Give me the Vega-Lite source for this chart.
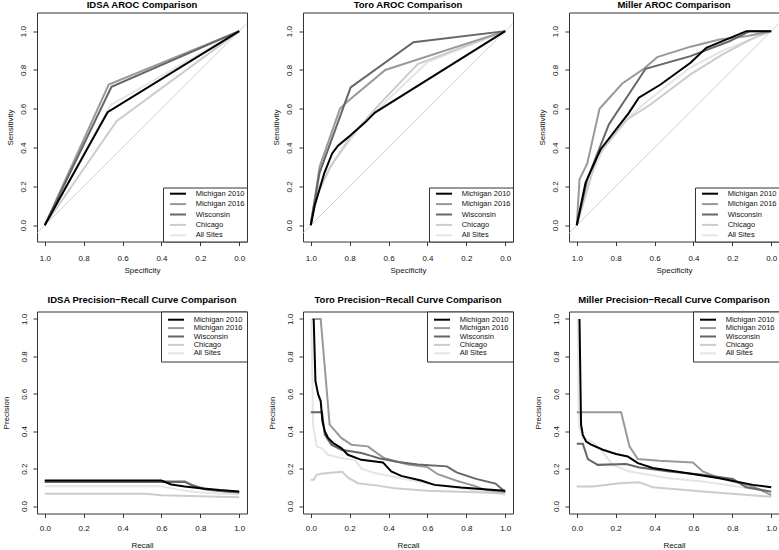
{
  "$schema": "https://vega.github.io/schema/vega-lite/v6.json",
  "padding": {"left": 1, "top": -0.5, "right": 0, "bottom": 0},
  "config": {
    "font": "Liberation Sans",
    "view": {"stroke": "#333333", "strokeWidth": 1},
    "axis": {"domain": false, "grid": false, "tickSize": 4, "tickColor": "#333333", "tickWidth": 1, "labelFontSize": 8, "labelColor": "#111111", "titleFontSize": 8, "titleFontWeight": "normal", "titleColor": "#111111"},
    "title": {"fontSize": 9.5, "fontWeight": "bold", "anchor": "middle", "frame": "group", "baseline": "middle", "color": "#000000"},
    "legend": {"strokeColor": "#333333", "fillColor": "#ffffff", "labelFontSize": 7.5, "labelColor": "#111111", "symbolStrokeWidth": 2, "symbolSize": 36, "offset": 0, "labelExpr": "datum.label + '\u00a0\u00a0\u00a0'"}
  },
  "datasets": {
    "diag": [{"specificity": 1.1, "sensitivity": -0.1}, {"specificity": -0.1, "sensitivity": 1.1}],
    "roc": [
      {"model": "IDSA", "site": "All Sites", "specificity": 1, "sensitivity": 0},
      {"model": "IDSA", "site": "All Sites", "specificity": 0.66, "sensitivity": 0.62},
      {"model": "IDSA", "site": "All Sites", "specificity": 0, "sensitivity": 1},
      {"model": "IDSA", "site": "Chicago", "specificity": 1, "sensitivity": 0},
      {"model": "IDSA", "site": "Chicago", "specificity": 0.631, "sensitivity": 0.536},
      {"model": "IDSA", "site": "Chicago", "specificity": 0, "sensitivity": 1},
      {"model": "IDSA", "site": "Michigan 2016", "specificity": 1, "sensitivity": 0},
      {"model": "IDSA", "site": "Michigan 2016", "specificity": 0.671, "sensitivity": 0.725},
      {"model": "IDSA", "site": "Michigan 2016", "specificity": 0, "sensitivity": 1},
      {"model": "IDSA", "site": "Wisconsin", "specificity": 1, "sensitivity": 0},
      {"model": "IDSA", "site": "Wisconsin", "specificity": 0.657, "sensitivity": 0.713},
      {"model": "IDSA", "site": "Wisconsin", "specificity": 0, "sensitivity": 1},
      {"model": "IDSA", "site": "Michigan 2010", "specificity": 1, "sensitivity": 0},
      {"model": "IDSA", "site": "Michigan 2010", "specificity": 0.677, "sensitivity": 0.582},
      {"model": "IDSA", "site": "Michigan 2010", "specificity": 0, "sensitivity": 1},

      {"model": "Toro", "site": "All Sites", "specificity": 1, "sensitivity": 0},
      {"model": "Toro", "site": "All Sites", "specificity": 0.97, "sensitivity": 0.18},
      {"model": "Toro", "site": "All Sites", "specificity": 0.88, "sensitivity": 0.33},
      {"model": "Toro", "site": "All Sites", "specificity": 0.75, "sensitivity": 0.5},
      {"model": "Toro", "site": "All Sites", "specificity": 0.6, "sensitivity": 0.65},
      {"model": "Toro", "site": "All Sites", "specificity": 0.4, "sensitivity": 0.84},
      {"model": "Toro", "site": "All Sites", "specificity": 0, "sensitivity": 1},
      {"model": "Toro", "site": "Chicago", "specificity": 1, "sensitivity": 0},
      {"model": "Toro", "site": "Chicago", "specificity": 0.97, "sensitivity": 0.15},
      {"model": "Toro", "site": "Chicago", "specificity": 0.9, "sensitivity": 0.3},
      {"model": "Toro", "site": "Chicago", "specificity": 0.8, "sensitivity": 0.45},
      {"model": "Toro", "site": "Chicago", "specificity": 0.65, "sensitivity": 0.62},
      {"model": "Toro", "site": "Chicago", "specificity": 0.45, "sensitivity": 0.83},
      {"model": "Toro", "site": "Chicago", "specificity": 0, "sensitivity": 1},
      {"model": "Toro", "site": "Michigan 2016", "specificity": 1, "sensitivity": 0},
      {"model": "Toro", "site": "Michigan 2016", "specificity": 0.99, "sensitivity": 0.06},
      {"model": "Toro", "site": "Michigan 2016", "specificity": 0.955, "sensitivity": 0.3},
      {"model": "Toro", "site": "Michigan 2016", "specificity": 0.85, "sensitivity": 0.6},
      {"model": "Toro", "site": "Michigan 2016", "specificity": 0.82, "sensitivity": 0.63},
      {"model": "Toro", "site": "Michigan 2016", "specificity": 0.617, "sensitivity": 0.8},
      {"model": "Toro", "site": "Michigan 2016", "specificity": 0, "sensitivity": 1},
      {"model": "Toro", "site": "Wisconsin", "specificity": 1, "sensitivity": 0},
      {"model": "Toro", "site": "Wisconsin", "specificity": 0.995, "sensitivity": 0.04},
      {"model": "Toro", "site": "Wisconsin", "specificity": 0.955, "sensitivity": 0.27},
      {"model": "Toro", "site": "Wisconsin", "specificity": 0.795, "sensitivity": 0.71},
      {"model": "Toro", "site": "Wisconsin", "specificity": 0.472, "sensitivity": 0.943},
      {"model": "Toro", "site": "Wisconsin", "specificity": 0, "sensitivity": 1},
      {"model": "Toro", "site": "Michigan 2010", "specificity": 1, "sensitivity": 0},
      {"model": "Toro", "site": "Michigan 2010", "specificity": 0.98, "sensitivity": 0.1},
      {"model": "Toro", "site": "Michigan 2010", "specificity": 0.93, "sensitivity": 0.27},
      {"model": "Toro", "site": "Michigan 2010", "specificity": 0.89, "sensitivity": 0.37},
      {"model": "Toro", "site": "Michigan 2010", "specificity": 0.86, "sensitivity": 0.41},
      {"model": "Toro", "site": "Michigan 2010", "specificity": 0.8, "sensitivity": 0.46},
      {"model": "Toro", "site": "Michigan 2010", "specificity": 0.72, "sensitivity": 0.53},
      {"model": "Toro", "site": "Michigan 2010", "specificity": 0.67, "sensitivity": 0.58},
      {"model": "Toro", "site": "Michigan 2010", "specificity": 0, "sensitivity": 1},

      {"model": "Miller", "site": "All Sites", "specificity": 1, "sensitivity": 0},
      {"model": "Miller", "site": "All Sites", "specificity": 0.93, "sensitivity": 0.25},
      {"model": "Miller", "site": "All Sites", "specificity": 0.85, "sensitivity": 0.42},
      {"model": "Miller", "site": "All Sites", "specificity": 0.73, "sensitivity": 0.56},
      {"model": "Miller", "site": "All Sites", "specificity": 0.6, "sensitivity": 0.67},
      {"model": "Miller", "site": "All Sites", "specificity": 0.42, "sensitivity": 0.81},
      {"model": "Miller", "site": "All Sites", "specificity": 0.25, "sensitivity": 0.9},
      {"model": "Miller", "site": "All Sites", "specificity": 0, "sensitivity": 1},
      {"model": "Miller", "site": "Chicago", "specificity": 1, "sensitivity": 0},
      {"model": "Miller", "site": "Chicago", "specificity": 0.895, "sensitivity": 0.356},
      {"model": "Miller", "site": "Chicago", "specificity": 0.741, "sensitivity": 0.545},
      {"model": "Miller", "site": "Chicago", "specificity": 0.621, "sensitivity": 0.622},
      {"model": "Miller", "site": "Chicago", "specificity": 0.415, "sensitivity": 0.777},
      {"model": "Miller", "site": "Chicago", "specificity": 0.25, "sensitivity": 0.88},
      {"model": "Miller", "site": "Chicago", "specificity": 0.1, "sensitivity": 0.96},
      {"model": "Miller", "site": "Chicago", "specificity": 0, "sensitivity": 1},
      {"model": "Miller", "site": "Michigan 2016", "specificity": 1, "sensitivity": 0},
      {"model": "Miller", "site": "Michigan 2016", "specificity": 0.986, "sensitivity": 0.236},
      {"model": "Miller", "site": "Michigan 2016", "specificity": 0.946, "sensitivity": 0.318},
      {"model": "Miller", "site": "Michigan 2016", "specificity": 0.883, "sensitivity": 0.6},
      {"model": "Miller", "site": "Michigan 2016", "specificity": 0.766, "sensitivity": 0.73},
      {"model": "Miller", "site": "Michigan 2016", "specificity": 0.655, "sensitivity": 0.806},
      {"model": "Miller", "site": "Michigan 2016", "specificity": 0.586, "sensitivity": 0.866},
      {"model": "Miller", "site": "Michigan 2016", "specificity": 0.415, "sensitivity": 0.92},
      {"model": "Miller", "site": "Michigan 2016", "specificity": 0.266, "sensitivity": 0.957},
      {"model": "Miller", "site": "Michigan 2016", "specificity": 0.12, "sensitivity": 0.975},
      {"model": "Miller", "site": "Michigan 2016", "specificity": 0, "sensitivity": 1},
      {"model": "Miller", "site": "Wisconsin", "specificity": 1, "sensitivity": 0},
      {"model": "Miller", "site": "Wisconsin", "specificity": 0.946, "sensitivity": 0.236},
      {"model": "Miller", "site": "Wisconsin", "specificity": 0.835, "sensitivity": 0.519},
      {"model": "Miller", "site": "Wisconsin", "specificity": 0.646, "sensitivity": 0.806},
      {"model": "Miller", "site": "Wisconsin", "specificity": 0.415, "sensitivity": 0.871},
      {"model": "Miller", "site": "Wisconsin", "specificity": 0.215, "sensitivity": 0.948},
      {"model": "Miller", "site": "Wisconsin", "specificity": 0.11, "sensitivity": 1},
      {"model": "Miller", "site": "Wisconsin", "specificity": 0, "sensitivity": 1},
      {"model": "Miller", "site": "Michigan 2010", "specificity": 1, "sensitivity": 0},
      {"model": "Miller", "site": "Michigan 2010", "specificity": 0.955, "sensitivity": 0.219},
      {"model": "Miller", "site": "Michigan 2010", "specificity": 0.878, "sensitivity": 0.39},
      {"model": "Miller", "site": "Michigan 2010", "specificity": 0.732, "sensitivity": 0.579},
      {"model": "Miller", "site": "Michigan 2010", "specificity": 0.681, "sensitivity": 0.657},
      {"model": "Miller", "site": "Michigan 2010", "specificity": 0.569, "sensitivity": 0.725},
      {"model": "Miller", "site": "Michigan 2010", "specificity": 0.415, "sensitivity": 0.837},
      {"model": "Miller", "site": "Michigan 2010", "specificity": 0.334, "sensitivity": 0.914},
      {"model": "Miller", "site": "Michigan 2010", "specificity": 0.128, "sensitivity": 1},
      {"model": "Miller", "site": "Michigan 2010", "specificity": 0, "sensitivity": 1}
    ],
    "pr": [
      {"model": "IDSA", "site": "All Sites", "recall": 0, "precision": 0.106},
      {"model": "IDSA", "site": "All Sites", "recall": 0.6, "precision": 0.106},
      {"model": "IDSA", "site": "All Sites", "recall": 0.7, "precision": 0.085},
      {"model": "IDSA", "site": "All Sites", "recall": 0.8, "precision": 0.072},
      {"model": "IDSA", "site": "All Sites", "recall": 1, "precision": 0.062},
      {"model": "IDSA", "site": "Chicago", "recall": 0, "precision": 0.065},
      {"model": "IDSA", "site": "Chicago", "recall": 0.52, "precision": 0.065},
      {"model": "IDSA", "site": "Chicago", "recall": 0.6, "precision": 0.057},
      {"model": "IDSA", "site": "Chicago", "recall": 0.8, "precision": 0.052},
      {"model": "IDSA", "site": "Chicago", "recall": 1, "precision": 0.047},
      {"model": "IDSA", "site": "Michigan 2016", "recall": 0, "precision": 0.132},
      {"model": "IDSA", "site": "Michigan 2016", "recall": 0.72, "precision": 0.132},
      {"model": "IDSA", "site": "Michigan 2016", "recall": 0.76, "precision": 0.112},
      {"model": "IDSA", "site": "Michigan 2016", "recall": 0.82, "precision": 0.092},
      {"model": "IDSA", "site": "Michigan 2016", "recall": 0.9, "precision": 0.082},
      {"model": "IDSA", "site": "Michigan 2016", "recall": 1, "precision": 0.074},
      {"model": "IDSA", "site": "Wisconsin", "recall": 0, "precision": 0.129},
      {"model": "IDSA", "site": "Wisconsin", "recall": 0.72, "precision": 0.129},
      {"model": "IDSA", "site": "Wisconsin", "recall": 0.76, "precision": 0.11},
      {"model": "IDSA", "site": "Wisconsin", "recall": 0.82, "precision": 0.09},
      {"model": "IDSA", "site": "Wisconsin", "recall": 0.9, "precision": 0.08},
      {"model": "IDSA", "site": "Wisconsin", "recall": 1, "precision": 0.072},
      {"model": "IDSA", "site": "Michigan 2010", "recall": 0, "precision": 0.136},
      {"model": "IDSA", "site": "Michigan 2010", "recall": 0.6, "precision": 0.136},
      {"model": "IDSA", "site": "Michigan 2010", "recall": 0.65, "precision": 0.115},
      {"model": "IDSA", "site": "Michigan 2010", "recall": 0.72, "precision": 0.104},
      {"model": "IDSA", "site": "Michigan 2010", "recall": 0.8, "precision": 0.095},
      {"model": "IDSA", "site": "Michigan 2010", "recall": 0.9, "precision": 0.085},
      {"model": "IDSA", "site": "Michigan 2010", "recall": 1, "precision": 0.078},

      {"model": "Toro", "site": "All Sites", "recall": 0.003, "precision": 1},
      {"model": "Toro", "site": "All Sites", "recall": 0.012, "precision": 0.435},
      {"model": "Toro", "site": "All Sites", "recall": 0.03, "precision": 0.319},
      {"model": "Toro", "site": "All Sites", "recall": 0.055, "precision": 0.31},
      {"model": "Toro", "site": "All Sites", "recall": 0.089, "precision": 0.274},
      {"model": "Toro", "site": "All Sites", "recall": 0.157, "precision": 0.256},
      {"model": "Toro", "site": "All Sites", "recall": 0.226, "precision": 0.247},
      {"model": "Toro", "site": "All Sites", "recall": 0.26, "precision": 0.2},
      {"model": "Toro", "site": "All Sites", "recall": 0.328, "precision": 0.176},
      {"model": "Toro", "site": "All Sites", "recall": 0.465, "precision": 0.149},
      {"model": "Toro", "site": "All Sites", "recall": 0.6, "precision": 0.122},
      {"model": "Toro", "site": "All Sites", "recall": 0.773, "precision": 0.095},
      {"model": "Toro", "site": "All Sites", "recall": 1, "precision": 0.06},
      {"model": "Toro", "site": "Chicago", "recall": 0, "precision": 0.14},
      {"model": "Toro", "site": "Chicago", "recall": 0.015, "precision": 0.14},
      {"model": "Toro", "site": "Chicago", "recall": 0.03, "precision": 0.167},
      {"model": "Toro", "site": "Chicago", "recall": 0.055, "precision": 0.172},
      {"model": "Toro", "site": "Chicago", "recall": 0.089, "precision": 0.176},
      {"model": "Toro", "site": "Chicago", "recall": 0.162, "precision": 0.183},
      {"model": "Toro", "site": "Chicago", "recall": 0.191, "precision": 0.152},
      {"model": "Toro", "site": "Chicago", "recall": 0.243, "precision": 0.122},
      {"model": "Toro", "site": "Chicago", "recall": 0.345, "precision": 0.109},
      {"model": "Toro", "site": "Chicago", "recall": 0.43, "precision": 0.095},
      {"model": "Toro", "site": "Chicago", "recall": 0.6, "precision": 0.081},
      {"model": "Toro", "site": "Chicago", "recall": 1, "precision": 0.068},
      {"model": "Toro", "site": "Michigan 2016", "recall": 0.007, "precision": 1},
      {"model": "Toro", "site": "Michigan 2016", "recall": 0.051, "precision": 1},
      {"model": "Toro", "site": "Michigan 2016", "recall": 0.097, "precision": 0.435},
      {"model": "Toro", "site": "Michigan 2016", "recall": 0.157, "precision": 0.364},
      {"model": "Toro", "site": "Michigan 2016", "recall": 0.209, "precision": 0.328},
      {"model": "Toro", "site": "Michigan 2016", "recall": 0.294, "precision": 0.319},
      {"model": "Toro", "site": "Michigan 2016", "recall": 0.328, "precision": 0.292},
      {"model": "Toro", "site": "Michigan 2016", "recall": 0.379, "precision": 0.255},
      {"model": "Toro", "site": "Michigan 2016", "recall": 0.5, "precision": 0.222},
      {"model": "Toro", "site": "Michigan 2016", "recall": 0.6, "precision": 0.208},
      {"model": "Toro", "site": "Michigan 2016", "recall": 0.653, "precision": 0.17},
      {"model": "Toro", "site": "Michigan 2016", "recall": 0.75, "precision": 0.135},
      {"model": "Toro", "site": "Michigan 2016", "recall": 0.85, "precision": 0.105},
      {"model": "Toro", "site": "Michigan 2016", "recall": 0.9, "precision": 0.085},
      {"model": "Toro", "site": "Michigan 2016", "recall": 1, "precision": 0.075},
      {"model": "Toro", "site": "Wisconsin", "recall": 0, "precision": 0.502},
      {"model": "Toro", "site": "Wisconsin", "recall": 0.058, "precision": 0.502},
      {"model": "Toro", "site": "Wisconsin", "recall": 0.072, "precision": 0.382},
      {"model": "Toro", "site": "Wisconsin", "recall": 0.106, "precision": 0.328},
      {"model": "Toro", "site": "Wisconsin", "recall": 0.157, "precision": 0.301},
      {"model": "Toro", "site": "Wisconsin", "recall": 0.26, "precision": 0.283},
      {"model": "Toro", "site": "Wisconsin", "recall": 0.311, "precision": 0.268},
      {"model": "Toro", "site": "Wisconsin", "recall": 0.35, "precision": 0.255},
      {"model": "Toro", "site": "Wisconsin", "recall": 0.45, "precision": 0.235},
      {"model": "Toro", "site": "Wisconsin", "recall": 0.55, "precision": 0.222},
      {"model": "Toro", "site": "Wisconsin", "recall": 0.7, "precision": 0.212},
      {"model": "Toro", "site": "Wisconsin", "recall": 0.75, "precision": 0.18},
      {"model": "Toro", "site": "Wisconsin", "recall": 0.85, "precision": 0.145},
      {"model": "Toro", "site": "Wisconsin", "recall": 0.95, "precision": 0.12},
      {"model": "Toro", "site": "Wisconsin", "recall": 1, "precision": 0.075},
      {"model": "Toro", "site": "Michigan 2010", "recall": 0.015, "precision": 1},
      {"model": "Toro", "site": "Michigan 2010", "recall": 0.024, "precision": 0.668},
      {"model": "Toro", "site": "Michigan 2010", "recall": 0.038, "precision": 0.597},
      {"model": "Toro", "site": "Michigan 2010", "recall": 0.051, "precision": 0.561},
      {"model": "Toro", "site": "Michigan 2010", "recall": 0.06, "precision": 0.453},
      {"model": "Toro", "site": "Michigan 2010", "recall": 0.072, "precision": 0.4},
      {"model": "Toro", "site": "Michigan 2010", "recall": 0.089, "precision": 0.364},
      {"model": "Toro", "site": "Michigan 2010", "recall": 0.115, "precision": 0.337},
      {"model": "Toro", "site": "Michigan 2010", "recall": 0.157, "precision": 0.31},
      {"model": "Toro", "site": "Michigan 2010", "recall": 0.191, "precision": 0.274},
      {"model": "Toro", "site": "Michigan 2010", "recall": 0.26, "precision": 0.247},
      {"model": "Toro", "site": "Michigan 2010", "recall": 0.371, "precision": 0.233},
      {"model": "Toro", "site": "Michigan 2010", "recall": 0.414, "precision": 0.185},
      {"model": "Toro", "site": "Michigan 2010", "recall": 0.465, "precision": 0.161},
      {"model": "Toro", "site": "Michigan 2010", "recall": 0.567, "precision": 0.136},
      {"model": "Toro", "site": "Michigan 2010", "recall": 0.636, "precision": 0.113},
      {"model": "Toro", "site": "Michigan 2010", "recall": 0.773, "precision": 0.099},
      {"model": "Toro", "site": "Michigan 2010", "recall": 0.944, "precision": 0.086},
      {"model": "Toro", "site": "Michigan 2010", "recall": 1, "precision": 0.081},

      {"model": "Miller", "site": "All Sites", "recall": 0.005, "precision": 1},
      {"model": "Miller", "site": "All Sites", "recall": 0.01, "precision": 0.435},
      {"model": "Miller", "site": "All Sites", "recall": 0.031, "precision": 0.364},
      {"model": "Miller", "site": "All Sites", "recall": 0.074, "precision": 0.346},
      {"model": "Miller", "site": "All Sites", "recall": 0.117, "precision": 0.31},
      {"model": "Miller", "site": "All Sites", "recall": 0.185, "precision": 0.22},
      {"model": "Miller", "site": "All Sites", "recall": 0.271, "precision": 0.185},
      {"model": "Miller", "site": "All Sites", "recall": 0.477, "precision": 0.149},
      {"model": "Miller", "site": "All Sites", "recall": 0.648, "precision": 0.131},
      {"model": "Miller", "site": "All Sites", "recall": 1, "precision": 0.077},
      {"model": "Miller", "site": "Chicago", "recall": 0, "precision": 0.104},
      {"model": "Miller", "site": "Chicago", "recall": 0.082, "precision": 0.104},
      {"model": "Miller", "site": "Chicago", "recall": 0.22, "precision": 0.122},
      {"model": "Miller", "site": "Chicago", "recall": 0.322, "precision": 0.127},
      {"model": "Miller", "site": "Chicago", "recall": 0.391, "precision": 0.1},
      {"model": "Miller", "site": "Chicago", "recall": 0.648, "precision": 0.077},
      {"model": "Miller", "site": "Chicago", "recall": 1, "precision": 0.05},
      {"model": "Miller", "site": "Michigan 2016", "recall": 0, "precision": 0.502},
      {"model": "Miller", "site": "Michigan 2016", "recall": 0.228, "precision": 0.502},
      {"model": "Miller", "site": "Michigan 2016", "recall": 0.271, "precision": 0.319},
      {"model": "Miller", "site": "Michigan 2016", "recall": 0.314, "precision": 0.251},
      {"model": "Miller", "site": "Michigan 2016", "recall": 0.425, "precision": 0.242},
      {"model": "Miller", "site": "Michigan 2016", "recall": 0.597, "precision": 0.233},
      {"model": "Miller", "site": "Michigan 2016", "recall": 0.648, "precision": 0.185},
      {"model": "Miller", "site": "Michigan 2016", "recall": 0.734, "precision": 0.149},
      {"model": "Miller", "site": "Michigan 2016", "recall": 0.906, "precision": 0.104},
      {"model": "Miller", "site": "Michigan 2016", "recall": 1, "precision": 0.059},
      {"model": "Miller", "site": "Wisconsin", "recall": 0, "precision": 0.333},
      {"model": "Miller", "site": "Wisconsin", "recall": 0.031, "precision": 0.333},
      {"model": "Miller", "site": "Wisconsin", "recall": 0.057, "precision": 0.251},
      {"model": "Miller", "site": "Wisconsin", "recall": 0.108, "precision": 0.22},
      {"model": "Miller", "site": "Wisconsin", "recall": 0.254, "precision": 0.224},
      {"model": "Miller", "site": "Wisconsin", "recall": 0.322, "precision": 0.206},
      {"model": "Miller", "site": "Wisconsin", "recall": 0.477, "precision": 0.185},
      {"model": "Miller", "site": "Wisconsin", "recall": 0.648, "precision": 0.167},
      {"model": "Miller", "site": "Wisconsin", "recall": 0.803, "precision": 0.145},
      {"model": "Miller", "site": "Wisconsin", "recall": 0.871, "precision": 0.1},
      {"model": "Miller", "site": "Wisconsin", "recall": 1, "precision": 0.077},
      {"model": "Miller", "site": "Michigan 2010", "recall": 0.014, "precision": 1},
      {"model": "Miller", "site": "Michigan 2010", "recall": 0.022, "precision": 0.435},
      {"model": "Miller", "site": "Michigan 2010", "recall": 0.031, "precision": 0.38},
      {"model": "Miller", "site": "Michigan 2010", "recall": 0.048, "precision": 0.345},
      {"model": "Miller", "site": "Michigan 2010", "recall": 0.074, "precision": 0.328},
      {"model": "Miller", "site": "Michigan 2010", "recall": 0.134, "precision": 0.301},
      {"model": "Miller", "site": "Michigan 2010", "recall": 0.202, "precision": 0.278},
      {"model": "Miller", "site": "Michigan 2010", "recall": 0.262, "precision": 0.265},
      {"model": "Miller", "site": "Michigan 2010", "recall": 0.314, "precision": 0.229},
      {"model": "Miller", "site": "Michigan 2010", "recall": 0.391, "precision": 0.203},
      {"model": "Miller", "site": "Michigan 2010", "recall": 0.563, "precision": 0.176},
      {"model": "Miller", "site": "Michigan 2010", "recall": 0.734, "precision": 0.149},
      {"model": "Miller", "site": "Michigan 2010", "recall": 0.906, "precision": 0.113},
      {"model": "Miller", "site": "Michigan 2010", "recall": 1, "precision": 0.1}
    ]
  },
  "columns": 3,
  "align": "each",
  "bounds": "flush",
  "spacing": {"row": 70, "column": 56},
  "resolve": {"scale": {"color": "independent", "x": "independent", "y": "independent"}, "legend": {"color": "independent"}},
  "concat": [
    {
      "width": 210, "height": 229,
      "title": {"text": "IDSA AROC Comparison", "offset": 3},
      "encoding": {
        "x": {"field": "specificity", "type": "quantitative", "scale": {"domain": [1.04, -0.04], "nice": false, "zero": false}, "axis": {"title": "Specificity", "values": [1, 0.8, 0.6, 0.4, 0.2, 0], "format": ".1f", "labelPadding": 9.1, "titleY": 28.5, "titleBaseline": "middle"}},
        "y": {"field": "sensitivity", "type": "quantitative", "scale": {"domain": [-0.084, 1.096], "nice": false, "zero": false}, "axis": {"title": "Sensitivity", "values": [0, 0.2, 0.4, 0.6, 0.8, 1], "format": ".1f", "labelAngle": 270, "labelAlign": "center", "labelBaseline": "bottom", "labelPadding": 5.8, "titleX": -26.5, "titleY": 114.5, "titleAngle": 270, "titleAlign": "center", "titleBaseline": "middle"}}
      },
      "layer": [
        {"data": {"name": "diag"}, "mark": {"type": "line", "color": "#c4c4c4", "strokeWidth": 0.8, "clip": true}},
        {"data": {"name": "roc"}, "transform": [{"filter": "datum.model === 'IDSA'"}], "mark": {"type": "line", "strokeWidth": 2},
         "encoding": {"color": {"field": "site", "type": "nominal", "scale": {"domain": ["Michigan 2010", "Michigan 2016", "Wisconsin", "Chicago", "All Sites"], "range": ["#000000", "#999999", "#666666", "#cccccc", "#e5e5e5"]}, "legend": {"title": null, "orient": "bottom-right", "symbolType": "M0.27,0H5.6", "rowPadding": 2.4, "padding": 2.2, "labelOffset": 22.5}}}}
      ]
    },
    {
      "width": 210, "height": 229,
      "title": {"text": "Toro AROC Comparison", "offset": 3},
      "encoding": {
        "x": {"field": "specificity", "type": "quantitative", "scale": {"domain": [1.04, -0.04], "nice": false, "zero": false}, "axis": {"title": "Specificity", "values": [1, 0.8, 0.6, 0.4, 0.2, 0], "format": ".1f", "labelPadding": 9.1, "titleY": 28.5, "titleBaseline": "middle"}},
        "y": {"field": "sensitivity", "type": "quantitative", "scale": {"domain": [-0.084, 1.096], "nice": false, "zero": false}, "axis": {"title": "Sensitivity", "values": [0, 0.2, 0.4, 0.6, 0.8, 1], "format": ".1f", "labelAngle": 270, "labelAlign": "center", "labelBaseline": "bottom", "labelPadding": 5.8, "titleX": -26.5, "titleY": 114.5, "titleAngle": 270, "titleAlign": "center", "titleBaseline": "middle"}}
      },
      "layer": [
        {"data": {"name": "diag"}, "mark": {"type": "line", "color": "#c4c4c4", "strokeWidth": 0.8, "clip": true}},
        {"data": {"name": "roc"}, "transform": [{"filter": "datum.model === 'Toro'"}], "mark": {"type": "line", "strokeWidth": 2},
         "encoding": {"color": {"field": "site", "type": "nominal", "scale": {"domain": ["Michigan 2010", "Michigan 2016", "Wisconsin", "Chicago", "All Sites"], "range": ["#000000", "#999999", "#666666", "#cccccc", "#e5e5e5"]}, "legend": {"title": null, "orient": "bottom-right", "symbolType": "M0.27,0H5.6", "rowPadding": 2.4, "padding": 2.2, "labelOffset": 22.5}}}}
      ]
    },
    {
      "width": 210, "height": 229,
      "title": {"text": "Miller AROC Comparison", "offset": 3},
      "encoding": {
        "x": {"field": "specificity", "type": "quantitative", "scale": {"domain": [1.04, -0.04], "nice": false, "zero": false}, "axis": {"title": "Specificity", "values": [1, 0.8, 0.6, 0.4, 0.2, 0], "format": ".1f", "labelPadding": 9.1, "titleY": 28.5, "titleBaseline": "middle"}},
        "y": {"field": "sensitivity", "type": "quantitative", "scale": {"domain": [-0.084, 1.096], "nice": false, "zero": false}, "axis": {"title": "Sensitivity", "values": [0, 0.2, 0.4, 0.6, 0.8, 1], "format": ".1f", "labelAngle": 270, "labelAlign": "center", "labelBaseline": "bottom", "labelPadding": 5.8, "titleX": -26.5, "titleY": 114.5, "titleAngle": 270, "titleAlign": "center", "titleBaseline": "middle"}}
      },
      "layer": [
        {"data": {"name": "diag"}, "mark": {"type": "line", "color": "#c4c4c4", "strokeWidth": 0.8, "clip": true}},
        {"data": {"name": "roc"}, "transform": [{"filter": "datum.model === 'Miller'"}], "mark": {"type": "line", "strokeWidth": 2},
         "encoding": {"color": {"field": "site", "type": "nominal", "scale": {"domain": ["Michigan 2010", "Michigan 2016", "Wisconsin", "Chicago", "All Sites"], "range": ["#000000", "#999999", "#666666", "#cccccc", "#e5e5e5"]}, "legend": {"title": null, "orient": "bottom-right", "symbolType": "M0.27,0H5.6", "rowPadding": 2.4, "padding": 2.2, "labelOffset": 22.5}}}}
      ]
    },
    {
      "width": 210, "height": 202,
      "title": {"text": "IDSA Precision\u2212Recall Curve Comparison", "offset": 7},
      "data": {"name": "pr"},
      "transform": [{"filter": "datum.model === 'IDSA'"}],
      "mark": {"type": "line", "strokeWidth": 2},
      "encoding": {
        "x": {"field": "recall", "type": "quantitative", "scale": {"domain": [-0.04, 1.04], "nice": false, "zero": false}, "axis": {"title": "Recall", "values": [0, 0.2, 0.4, 0.6, 0.8, 1], "format": ".1f", "labelPadding": 7.4, "titleY": 32, "titleBaseline": "middle"}},
        "y": {"field": "precision", "type": "quantitative", "scale": {"domain": [-0.04, 1.04], "nice": false, "zero": false}, "axis": {"title": "Precision", "values": [0, 0.2, 0.4, 0.6, 0.8, 1], "format": ".1f", "labelAngle": 270, "labelAlign": "center", "labelBaseline": "bottom", "labelPadding": 4.2, "titleX": -31, "titleY": 101, "titleAngle": 270, "titleAlign": "center", "titleBaseline": "middle"}},
        "color": {"field": "site", "type": "nominal", "scale": {"domain": ["Michigan 2010", "Michigan 2016", "Wisconsin", "Chicago", "All Sites"], "range": ["#000000", "#999999", "#666666", "#cccccc", "#e5e5e5"]}, "legend": {"title": null, "orient": "top-right", "symbolType": "M-0.4,0H4.93", "rowPadding": 0.4, "padding": 4.2, "labelOffset": 20.5}}
      }
    },
    {
      "width": 210, "height": 202,
      "title": {"text": "Toro Precision\u2212Recall Curve Comparison", "offset": 7},
      "data": {"name": "pr"},
      "transform": [{"filter": "datum.model === 'Toro'"}],
      "mark": {"type": "line", "strokeWidth": 2},
      "encoding": {
        "x": {"field": "recall", "type": "quantitative", "scale": {"domain": [-0.04, 1.04], "nice": false, "zero": false}, "axis": {"title": "Recall", "values": [0, 0.2, 0.4, 0.6, 0.8, 1], "format": ".1f", "labelPadding": 7.4, "titleY": 32, "titleBaseline": "middle"}},
        "y": {"field": "precision", "type": "quantitative", "scale": {"domain": [-0.04, 1.04], "nice": false, "zero": false}, "axis": {"title": "Precision", "values": [0, 0.2, 0.4, 0.6, 0.8, 1], "format": ".1f", "labelAngle": 270, "labelAlign": "center", "labelBaseline": "bottom", "labelPadding": 4.2, "titleX": -31, "titleY": 101, "titleAngle": 270, "titleAlign": "center", "titleBaseline": "middle"}},
        "color": {"field": "site", "type": "nominal", "scale": {"domain": ["Michigan 2010", "Michigan 2016", "Wisconsin", "Chicago", "All Sites"], "range": ["#000000", "#999999", "#666666", "#cccccc", "#e5e5e5"]}, "legend": {"title": null, "orient": "top-right", "symbolType": "M-0.4,0H4.93", "rowPadding": 0.4, "padding": 4.2, "labelOffset": 20.5}}
      }
    },
    {
      "width": 210, "height": 202,
      "title": {"text": "Miller Precision\u2212Recall Curve Comparison", "offset": 7},
      "data": {"name": "pr"},
      "transform": [{"filter": "datum.model === 'Miller'"}],
      "mark": {"type": "line", "strokeWidth": 2},
      "encoding": {
        "x": {"field": "recall", "type": "quantitative", "scale": {"domain": [-0.04, 1.04], "nice": false, "zero": false}, "axis": {"title": "Recall", "values": [0, 0.2, 0.4, 0.6, 0.8, 1], "format": ".1f", "labelPadding": 7.4, "titleY": 32, "titleBaseline": "middle"}},
        "y": {"field": "precision", "type": "quantitative", "scale": {"domain": [-0.04, 1.04], "nice": false, "zero": false}, "axis": {"title": "Precision", "values": [0, 0.2, 0.4, 0.6, 0.8, 1], "format": ".1f", "labelAngle": 270, "labelAlign": "center", "labelBaseline": "bottom", "labelPadding": 4.2, "titleX": -31, "titleY": 101, "titleAngle": 270, "titleAlign": "center", "titleBaseline": "middle"}},
        "color": {"field": "site", "type": "nominal", "scale": {"domain": ["Michigan 2010", "Michigan 2016", "Wisconsin", "Chicago", "All Sites"], "range": ["#000000", "#999999", "#666666", "#cccccc", "#e5e5e5"]}, "legend": {"title": null, "orient": "top-right", "symbolType": "M-0.4,0H4.93", "rowPadding": 0.4, "padding": 4.2, "labelOffset": 20.5}}
      }
    }
  ]
}
